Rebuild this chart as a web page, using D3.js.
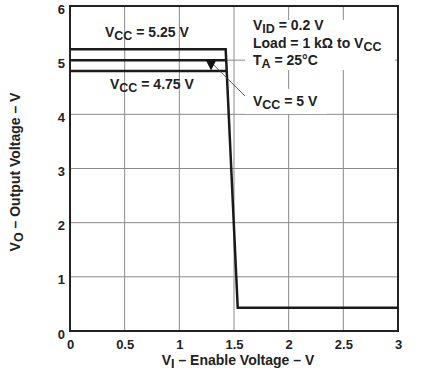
<!DOCTYPE html>
<html>
<head>
<meta charset="utf-8">
<script src="https://cdn.jsdelivr.net/npm/d3@7"></script>
<style>
  body { margin: 0; background: #fff; }
  svg { font-family: "Liberation Sans", Arial, sans-serif; font-weight: bold; }
</style>
</head>
<body>
<div id="chart"></div>
<script>
// data
var xTicks = [0, 0.5, 1, 1.5, 2, 2.5, 3];
var xTickLabels = ["0", "0.5", "1", "1.5", "2", "2.5", "3"];
var yTicks = [0, 1, 2, 3, 4, 5, 6];
var vcc525 = [[0, 5.2], [1.424, 5.2], [1.534, 0.43], [3, 0.43]];
var vcc500 = [[0, 5.0], [1.429, 5.0]];
var vcc475 = [[0, 4.8], [1.433, 4.8]];

// chart area
var margin = { top: 6, right: 44, bottom: 40, left: 70 };
var width = 442 - margin.left - margin.right;
var height = 371 - margin.top - margin.bottom;

var svg = d3.select("#chart")
  .append("svg")
  .attr("width", 442)
  .attr("height", 371)
  .append("g")
  .attr("transform", "translate(" + margin.left + "," + margin.top + ")");

var x = d3.scaleLinear().domain([0, 3]).range([0, width]);
var y = d3.scaleLinear().domain([0, 6]).range([height, 0]);

// grid
svg.append("g")
  .selectAll("line.vgrid")
  .data(xTicks.slice(1, -1))
  .enter()
  .append("line")
  .attr("x1", function(d) { return x(d); })
  .attr("x2", function(d) { return x(d); })
  .attr("y1", 0)
  .attr("y2", height)
  .attr("stroke", "#8a8a8a")
  .attr("stroke-width", 1);

svg.append("g")
  .selectAll("line.hgrid")
  .data(yTicks.slice(1, -1))
  .enter()
  .append("line")
  .attr("x1", 0)
  .attr("x2", width)
  .attr("y1", function(d) { return y(d); })
  .attr("y2", function(d) { return y(d); })
  .attr("stroke", "#8a8a8a")
  .attr("stroke-width", 1);

// axes (labels only, no tick marks)
var xAxis = svg.append("g")
  .attr("transform", "translate(0," + height + ")")
  .call(d3.axisBottom(x).tickValues(xTicks)
    .tickFormat(function(d, i) { return xTickLabels[i]; })
    .tickSize(0).tickPadding(9));
xAxis.select(".domain").remove();
xAxis.selectAll("text").style("font-size", "13px").style("font-weight", "bold").attr("fill", "#222");

var yAxis = svg.append("g")
  .call(d3.axisLeft(y).tickValues(yTicks).tickFormat(d3.format("d")).tickSize(0).tickPadding(5));
yAxis.select(".domain").remove();
yAxis.selectAll("text").style("font-size", "13px").style("font-weight", "bold").attr("fill", "#222")
  .attr("dy", "0.55em");

// white boxes behind annotations
function box(x0, y0, w, h) {
  svg.append("rect")
    .attr("x", x0 - margin.left).attr("y", y0 - margin.top)
    .attr("width", w).attr("height", h)
    .attr("fill", "#fff");
}
box(245, 20, 150, 50);
box(245, 89, 82, 25);

// curves
var line = d3.line()
  .x(function(d) { return x(d[0]); })
  .y(function(d) { return y(d[1]); });

[vcc525, vcc500, vcc475].forEach(function(s) {
  svg.append("path")
    .datum(s)
    .attr("fill", "none")
    .attr("stroke", "#1a1a1a")
    .attr("stroke-width", 2.5)
    .attr("d", line);
});

// frame
svg.append("rect")
  .attr("x", 0).attr("y", 0)
  .attr("width", width).attr("height", height)
  .attr("fill", "none")
  .attr("stroke", "#222")
  .attr("stroke-width", 2);

// leader + arrowhead to VCC = 5 V
svg.append("line")
  .attr("x1", x(1.31)).attr("y1", y(4.92))
  .attr("x2", x(1.6)).attr("y2", y(4.34))
  .attr("stroke", "#333").attr("stroke-width", 0.8);
svg.append("path")
  .attr("d", "M" + x(1.245) + "," + y(4.99) + "L" + x(1.335) + "," + y(4.99) + "L" + x(1.29) + "," + y(4.81) + "Z")
  .attr("fill", "#111");

// text labels with subscripts
function label(px, py, parts, anchor) {
  var t = svg.append("text")
    .attr("x", px - margin.left).attr("y", py - margin.top)
    .style("font-size", "14px")
    .attr("fill", "#222")
    .attr("text-anchor", anchor || "start");
  parts.forEach(function(p) {
    var ts = t.append("tspan").text(p[0]);
    if (p[1] === "sub") ts.attr("dy", 3).style("font-size", "12.5px");
    if (p[1] === "up") ts.attr("dy", -3);
  });
  return t;
}

label(105, 37, [["V"], ["CC", "sub"], [" = 5.25 V", "up"]]);
label(110, 89, [["V"], ["CC", "sub"], [" = 4.75 V", "up"]]);
label(253, 30, [["V"], ["ID", "sub"], [" = 0.2 V", "up"]]);
label(253, 48, [["Load = 1 k\u03A9 to V"], ["CC", "sub"]]);
label(253, 65, [["T"], ["A", "sub"], [" = 25\u00B0C", "up"]]);
label(253, 106, [["V"], ["CC", "sub"], [" = 5 V", "up"]]);

// axis titles
label(238, 365, [["V"], ["I", "sub"], [" \u2013 Enable Voltage \u2013 V", "up"]], "middle");

var yt = svg.append("text")
  .attr("transform", "translate(" + (20 - margin.left) + "," + (172 - margin.top) + ") rotate(-90)")
  .attr("text-anchor", "middle")
  .style("font-size", "14px")
  .attr("fill", "#222");
yt.append("tspan").text("V");
yt.append("tspan").text("O").attr("dy", 3).style("font-size", "12.5px");
yt.append("tspan").text(" \u2013 Output Voltage \u2013 V").attr("dy", -3);
</script>
</body>
</html>
